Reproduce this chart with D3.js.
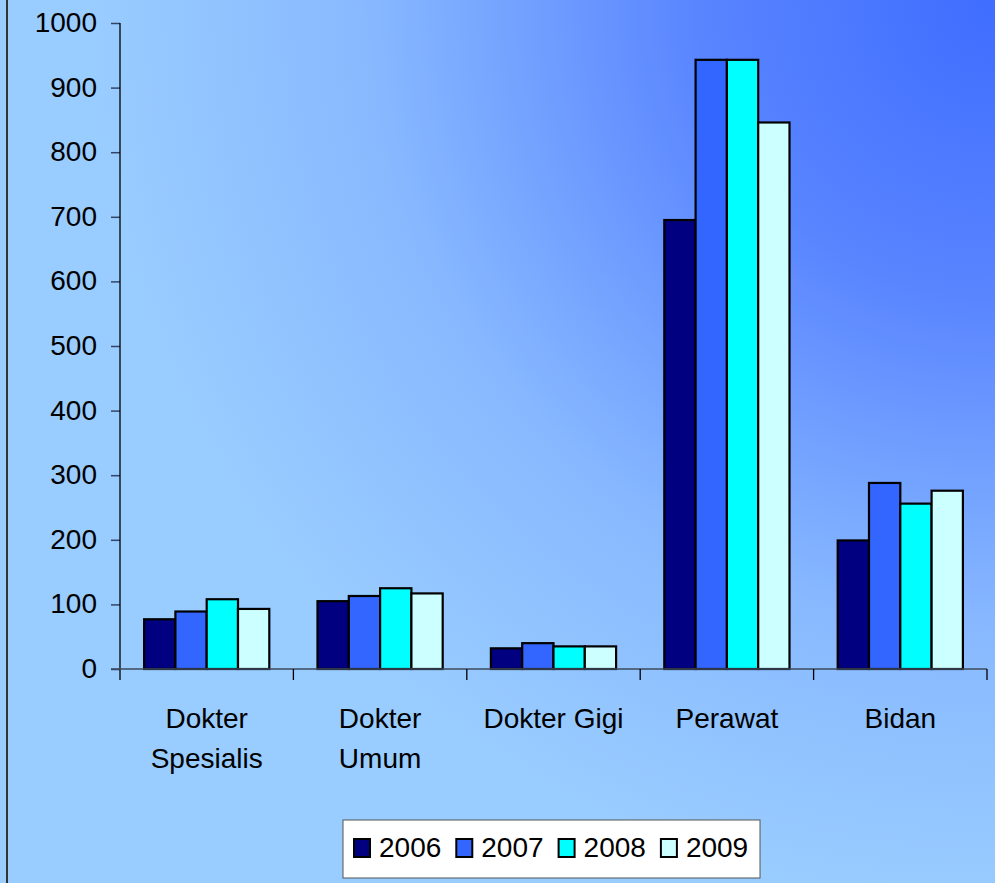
<!DOCTYPE html>
<html>
<head>
<meta charset="utf-8">
<script src="https://cdn.jsdelivr.net/npm/d3@7"></script>
<style>
  html, body { margin: 0; padding: 0; background: #fff; }
  svg { display: block; }
  text { font-family: "Liberation Sans", Arial, sans-serif; fill: #000; }
</style>
</head>
<body>
<svg id="chart" width="995" height="883"></svg>
<script>
const categories = [["Dokter", "Spesialis"], ["Dokter", "Umum"], ["Dokter Gigi"], ["Perawat"], ["Bidan"]];
const years = ["2006", "2007", "2008", "2009"];
const values2006 = [77, 105, 32, 695, 199];
const values2007 = [89, 113, 40, 943, 288];
const values2008 = [108, 125, 35, 943, 256];
const values2009 = [93, 117, 35, 846, 276];
const yTicks = [0, 100, 200, 300, 400, 500, 600, 700, 800, 900, 1000];
const colors = ["#000080", "#3366FF", "#00FFFF", "#CCFFFF"];

const series = [values2006, values2007, values2008, values2009];
const W = 995, H = 883;
const svg = d3.select("#chart");

// background gradient
const defs = svg.append("defs");
const rg = defs.append("radialGradient").attr("id", "bg")
  .attr("gradientUnits", "userSpaceOnUse")
  .attr("cx", W).attr("cy", 0).attr("r", 900);
rg.append("stop").attr("offset", "0").attr("stop-color", "#3F6DFF");
rg.append("stop").attr("offset", "0.33").attr("stop-color", "#5985FF");
rg.append("stop").attr("offset", "0.7").attr("stop-color", "#88B9FF");
rg.append("stop").attr("offset", "1").attr("stop-color", "#99CCFF");
svg.append("rect").attr("width", W).attr("height", H).attr("fill", "url(#bg)");
svg.append("line").attr("x1", 7).attr("x2", 7).attr("y1", 0).attr("y2", H)
  .attr("stroke", "#333").attr("stroke-width", 2);

const x0 = d3.scaleBand().domain(d3.range(categories.length)).range([120, 987]).paddingInner(0).paddingOuter(0);
const x1 = d3.scaleBand().domain(d3.range(years.length)).range([0, x0.bandwidth()]).paddingInner(0).paddingOuter(0.77);
const y = d3.scaleLinear().domain([0, 1000]).range([669, 23]);

// bars
const g = svg.append("g");
categories.forEach((c, ci) => {
  series.forEach((s, si) => {
    g.append("rect")
      .attr("x", x0(ci) + x1(si))
      .attr("y", y(s[ci]))
      .attr("width", x1.bandwidth())
      .attr("height", y(0) - y(s[ci]))
      .attr("fill", colors[si])
      .attr("stroke", "#000")
      .attr("stroke-width", 2.2);
  });
});

// y axis
const yAxis = d3.axisLeft(y).tickValues(yTicks).tickFormat(d3.format("d")).tickSize(9).tickPadding(14);
const ya = svg.append("g").attr("transform", "translate(120,0)").call(yAxis);
ya.select(".domain").remove();
ya.append("line").attr("x1", 0).attr("x2", 0).attr("y1", 23).attr("y2", 680).attr("stroke", "#000").attr("stroke-width", 1.3);
ya.selectAll(".tick line").attr("stroke", "#334466").attr("stroke-width", 1.5);
ya.selectAll(".tick text").attr("font-size", 28).attr("dy", "0.3em")
  .attr("font-family", "Liberation Sans, Arial, sans-serif").attr("fill", "#000");

// x axis
svg.append("line").attr("x1", 111).attr("x2", 987).attr("y1", y(0)).attr("y2", y(0))
  .attr("stroke", "#3d4a5c").attr("stroke-width", 1.5);
const xTickPos = d3.range(categories.length + 1).map(i => i < categories.length ? x0(i) : x0(categories.length - 1) + x0.bandwidth());
svg.selectAll(".xt").data(xTickPos.slice(1)).join("line")
  .attr("x1", d => d).attr("x2", d => d).attr("y1", y(0)).attr("y2", 680)
  .attr("stroke", "#000").attr("stroke-width", 1.3);

// category labels
categories.forEach((c, ci) => {
  const t = svg.append("text").attr("x", x0(ci) + x0.bandwidth() / 2).attr("y", 728)
    .attr("text-anchor", "middle").attr("font-size", 28);
  c.forEach((line, li) => {
    t.append("tspan").attr("x", x0(ci) + x0.bandwidth() / 2).attr("dy", li === 0 ? 0 : 40).text(line);
  });
});

// legend
const lg = svg.append("g");
lg.append("rect").attr("x", 343).attr("y", 820).attr("width", 417).attr("height", 58)
  .attr("fill", "#fff").attr("stroke", "#555").attr("stroke-width", 1);
years.forEach((yr, i) => {
  const lx = 354 + i * 102.3;
  lg.append("rect").attr("x", lx).attr("y", 839).attr("width", 16).attr("height", 18)
    .attr("fill", colors[i]).attr("stroke", "#000").attr("stroke-width", 2);
  lg.append("text").attr("x", lx + 25).attr("y", 857).attr("font-size", 28).text(yr);
});
</script>
</body>
</html>
